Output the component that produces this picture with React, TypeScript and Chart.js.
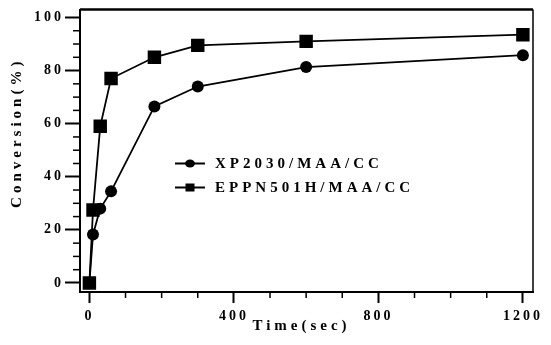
import React, { useEffect, useRef } from "react";
import { Chart, registerables } from "chart.js";

Chart.register(...registerables);

// ---- data ----
const timeSec = [0, 10, 30, 60, 180, 300, 600, 1200];
const xp2030 = [0, 18.3, 28, 34.5, 66.5, 74, 81.3, 85.8];
const eppn501h = [0, 27.5, 59, 77, 85, 89.5, 91, 93.5];
const seriesLabels = ["XP2030/MAA/CC", "EPPN501H/MAA/CC"];
const xTickValues = [0, 400, 800, 1200];
const yTickValues = [0, 20, 40, 60, 80, 100];
const xMinorStep = 100;
const yMinorStep = 5;
const xTitle = "Time(sec)";
const yTitle = "Conversion(%)";

const FONT = '"Liberation Serif", "DejaVu Serif", "Times New Roman", serif';

const spacingPlugin = {
  id: "spacing",
  beforeLayout(chart: any) {
    chart.ctx.letterSpacing = "3px";
  },
  beforeDraw(chart: any) {
    chart.ctx.letterSpacing = "3px";
  },
};

const framePlugin = {
  id: "frame",
  beforeDatasetsDraw(chart: any) {
    const { ctx, chartArea: a, scales } = chart;
    ctx.save();
    ctx.strokeStyle = "#000";
    ctx.lineWidth = 2.5;
    ctx.beginPath();
    ctx.moveTo(a.left, a.top);
    ctx.lineTo(a.right, a.top);
    ctx.stroke();
    ctx.lineWidth = 1.5;
    ctx.beginPath();
    ctx.moveTo(a.right, a.top);
    ctx.lineTo(a.right, a.bottom);
    ctx.stroke();
    const xs = scales.x;
    const ys = scales.y;
    for (let v = xMinorStep; v < xs.max; v += xMinorStep) {
      if (xTickValues.includes(v)) continue;
      const px = xs.getPixelForValue(v);
      ctx.beginPath();
      ctx.moveTo(px, a.bottom);
      ctx.lineTo(px, a.bottom + 6);
      ctx.stroke();
    }
    for (let v = yMinorStep; v < ys.max; v += yMinorStep) {
      if (yTickValues.includes(v)) continue;
      const py = ys.getPixelForValue(v);
      ctx.beginPath();
      ctx.moveTo(a.left, py);
      ctx.lineTo(a.left - 7, py);
      ctx.stroke();
    }
    ctx.restore();
  },
};

const titlesPlugin = {
  id: "titles",
  afterDraw(chart: any) {
    const { ctx, chartArea: a } = chart;
    ctx.save();
    ctx.fillStyle = "#000";
    ctx.font = `bold 15px ${FONT}`;
    ctx.letterSpacing = "4px";
    ctx.textAlign = "center";
    ctx.textBaseline = "middle";
    ctx.fillText(xTitle, (a.left + a.right) / 2 - 5, chart.height - 19);
    ctx.translate(17, (a.top + a.bottom) / 2 - 18);
    ctx.rotate(-Math.PI / 2);
    ctx.fillText(yTitle, 0, 0);
    ctx.restore();
  },
};

const legendPlugin = {
  id: "innerLegend",
  afterDraw(chart: any) {
    const { ctx, chartArea: a } = chart;
    const x0 = a.left + 95;
    const rows = [a.top + 154, a.top + 178];
    ctx.save();
    ctx.fillStyle = "#000";
    ctx.strokeStyle = "#000";
    ctx.font = `bold 15px ${FONT}`;
    ctx.letterSpacing = "4px";
    ctx.textAlign = "left";
    ctx.textBaseline = "middle";
    chart.data.datasets.forEach((ds: any, i: number) => {
      const y = rows[i];
      ctx.lineWidth = 2;
      ctx.beginPath();
      ctx.moveTo(x0, y);
      ctx.lineTo(x0 + 30, y);
      ctx.stroke();
      if (ds.pointStyle === "rect") {
        ctx.fillRect(x0 + 15 - 4.5, y - 4, 9, 8);
      } else {
        ctx.beginPath();
        ctx.ellipse(x0 + 15, y, 5, 4, 0, 0, Math.PI * 2);
        ctx.fill();
      }
      ctx.fillText(ds.label, x0 + 40, y + 1);
    });
    ctx.restore();
  },
};

export default function App() {
  const ref = useRef<HTMLCanvasElement | null>(null);

  useEffect(() => {
    document.body.style.margin = "0";
    const canvas = ref.current;
    if (!canvas) return;
    const chart = new Chart(canvas, {
      type: "line",
      data: {
        datasets: [
          {
            label: seriesLabels[0],
            data: timeSec.map((t, i) => ({ x: t, y: xp2030[i] })),
            borderColor: "#000",
            backgroundColor: "#000",
            borderWidth: 1.8,
            pointStyle: "circle",
            pointRadius: 6,
            pointBorderWidth: 0,
            tension: 0,
          },
          {
            label: seriesLabels[1],
            data: timeSec.map((t, i) => ({ x: t, y: eppn501h[i] })),
            borderColor: "#000",
            backgroundColor: "#000",
            borderWidth: 1.8,
            pointStyle: "rect",
            pointRadius: 9.5,
            pointBorderWidth: 0,
            tension: 0,
          },
        ],
      },
      options: {
        responsive: false,
        animation: false,
        layout: { padding: { top: 7, right: 18, left: 0, bottom: 0 } },
        plugins: {
          legend: { display: false },
          tooltip: { enabled: false },
        },
        scales: {
          x: {
            type: "linear",
            min: -26,
            max: 1228,
            afterBuildTicks: (s: any) => {
              s.ticks = xTickValues.map((v) => ({ value: v }));
            },
            afterFit: (s: any) => {
              s.height = 53;
            },
            grid: {
              display: true,
              drawOnChartArea: false,
              drawTicks: true,
              tickLength: 11,
              tickColor: "#000",
              tickWidth: 2,
            },
            border: { display: true, color: "#000", width: 2 },
            ticks: {
              color: "#000",
              padding: 5,
              maxRotation: 0,
              autoSkip: false,
              callback: (v: any) => String(v),
              font: { family: FONT, size: 14, weight: "bold" },
            },
          },
          y: {
            type: "linear",
            min: -3.4,
            max: 103,
            afterBuildTicks: (s: any) => {
              s.ticks = yTickValues.map((v) => ({ value: v }));
            },
            afterFit: (s: any) => {
              s.width = 80;
            },
            grid: {
              display: true,
              drawOnChartArea: false,
              drawTicks: true,
              tickLength: 15,
              tickColor: "#000",
              tickWidth: 2,
            },
            border: { display: true, color: "#000", width: 2 },
            ticks: {
              color: "#000",
              padding: 1,
              autoSkip: false,
              callback: (v: any) => String(v),
              font: { family: FONT, size: 14, weight: "bold" },
            },
          },
        },
      },
      plugins: [spacingPlugin, framePlugin, titlesPlugin, legendPlugin],
    } as any);
    return () => chart.destroy();
  }, []);

  return (
    <div style={{ position: "absolute", left: 0, top: 0, width: 551, height: 345, background: "#fff" }}>
      <canvas ref={ref} width={551} height={345} />
    </div>
  );
}
